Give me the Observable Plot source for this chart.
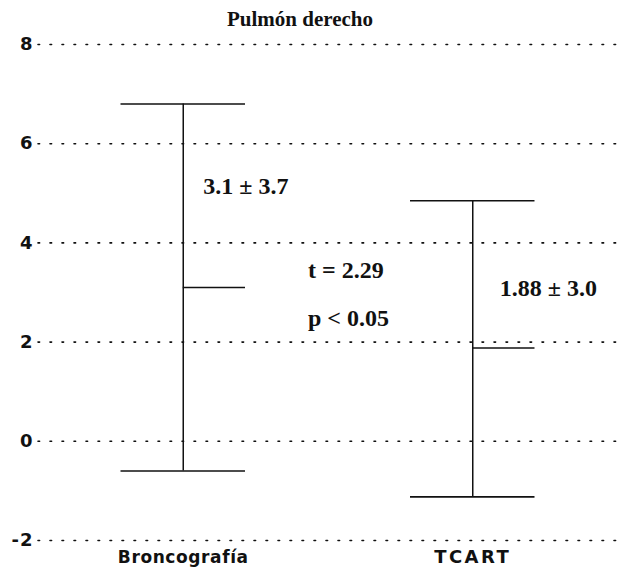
<!DOCTYPE html>
<html>
<head>
<meta charset="utf-8">
<script src="https://cdn.jsdelivr.net/npm/d3@7"></script>
<script src="https://cdn.jsdelivr.net/npm/@observablehq/plot@0.6"></script>
<style>
  body { margin: 0; background: #fff; }
  #title { width: 600px; height: 30px; text-align: center; font: bold 21px "Liberation Serif", serif; line-height: 38px; color: #111; }
  g[aria-label="x-axis tick label"] text { letter-spacing: 0.6px; }
  g[aria-label="x-axis tick label"] text:nth-child(2) { letter-spacing: 2.5px; font-size: 18px; }
  g[aria-label="y-axis tick label"] text { letter-spacing: 1px; }
</style>
</head>
<body>
<div id="title">Pulmón derecho</div>
<div id="chart"></div>
<script>
// Data
const categories = ["Broncografía", "TCART"];
const means = [3.1, 1.88];
const highs = [6.8, 4.85];
const lows = [-0.6, -1.12];
const sdLabels = ["3.1 ± 3.7", "1.88 ± 3.0"];
const statLabels = ["t = 2.29", "p < 0.05"];
const yTicks = [-2, 0, 2, 4, 6, 8];

const rows = categories.map((c, i) => ({i, c, mean: means[i], hi: highs[i], lo: lows[i], label: sdLabels[i]}));
const half = 0.215;
const serif = "Liberation Serif, serif";
const heavySans = "DejaVu Sans, Liberation Sans, sans-serif";

const chart = Plot.plot({
  width: 617,
  height: 539,
  marginLeft: 38,
  marginRight: 0,
  marginTop: 14,
  marginBottom: 29,
  style: {fontFamily: heavySans, color: "#111", background: "#fff"},
  x: {type: "linear", domain: [-0.5, 1.5], axis: null},
  y: {domain: [-2, 8], axis: null},
  marks: [
    Plot.ruleY(yTicks, {stroke: "#111", strokeWidth: 1.6, strokeDasharray: "1.6,10.4", strokeLinecap: "round"}),
    Plot.axisY({ticks: yTicks, tickFormat: d => String(d), tickSize: 0, tickPadding: 5, fontSize: 18, fontWeight: "bold", fontFamily: heavySans, textAnchor: "end"}),
    Plot.axisX({ticks: [0, 1], tickFormat: i => categories[i], tickSize: 0, tickPadding: 10, fontSize: 17, fontWeight: "bold", fontFamily: heavySans, label: null}),
    Plot.ruleX(rows, {x: "i", y1: "lo", y2: "hi", stroke: "#111", strokeWidth: 1.5}),
    Plot.ruleY(rows, {y: "hi", x1: d => d.i - half, x2: d => d.i + half, stroke: "#111", strokeWidth: 1.6}),
    Plot.ruleY(rows, {y: "lo", x1: d => d.i - half, x2: d => d.i + half, stroke: "#111", strokeWidth: 1.6}),
    Plot.ruleY(rows, {y: "mean", x1: "i", x2: d => d.i + half, stroke: "#111", strokeWidth: 1.4}),
    Plot.text(rows.filter(d => d.i === 0), {x: "i", y: 5.15, text: "label", textAnchor: "start", dx: 20, fontSize: 24, fontWeight: "bold", fontFamily: serif}),
    Plot.text(rows.filter(d => d.i === 1), {x: "i", y: 3.08, text: "label", textAnchor: "start", dx: 27, fontSize: 24, fontWeight: "bold", fontFamily: serif}),
    Plot.text(statLabels, {x: 0.5, y: (d, k) => k === 0 ? 3.45 : 2.48, text: d => d, textAnchor: "start", dx: -20, fontSize: 24, fontWeight: "bold", fontFamily: serif})
  ]
});
document.getElementById("chart").appendChild(chart);
</script>
</body>
</html>
